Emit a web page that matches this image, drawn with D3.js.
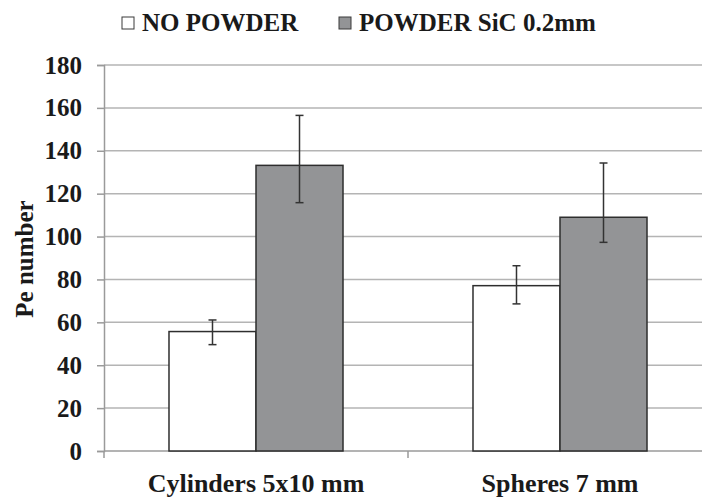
<!DOCTYPE html>
<html><head><meta charset="utf-8">
<script src="https://cdn.jsdelivr.net/npm/d3@7"></script>
<style>body{margin:0;background:#fff}svg{display:block}text{font-family:"Liberation Serif","Times New Roman",serif;font-weight:bold;fill:#1a1a1a}</style>
</head><body>
<svg id="c" width="702" height="497"></svg>
<script>
const categories = ["Cylinders 5x10 mm", "Spheres 7 mm"];
const seriesNames = ["NO POWDER", "POWDER SiC 0.2mm"];
const noPowder = [55.7, 77.1];
const powder = [133.2, 109.0];
const noPowderErrUp = [61.1, 86.4];
const noPowderErrLow = [49.6, 68.6];
const powderErrUp = [156.5, 134.3];
const powderErrLow = [115.8, 97.3];
const yTicks = [0, 20, 40, 60, 80, 100, 120, 140, 160, 180];
const yTitle = "Pe number";

const svg = d3.select("#c");
const mLeft = 104, mRight = 712, mTop = 65, mBottom = 451;
const FS = 25;
const x = d3.scaleBand().domain(categories).range([mLeft, mRight]).paddingInner(0).paddingOuter(0);
const xs = d3.scaleBand().domain(seriesNames).range([0, x.bandwidth()]).paddingInner(0).paddingOuter(0.747);
const y = d3.scaleLinear().domain([0, 180]).range([mBottom, mTop]);
const fills = ["#ffffff", "#939496"];

// gridlines
svg.append("g").selectAll("line").data(yTicks.filter(d => d > 0)).join("line")
  .attr("x1", mLeft).attr("x2", mRight).attr("y1", d => y(d)).attr("y2", d => y(d))
  .attr("stroke", "#b4b4b4").attr("stroke-width", 1.5);

// y axis
const ya = svg.append("g").attr("transform", `translate(${mLeft},0)`)
  .call(d3.axisLeft(y).tickValues(yTicks).tickSize(7).tickPadding(15));
ya.select(".domain").attr("stroke", "#9a9a9a").attr("stroke-width", 1.5);
ya.selectAll(".tick line").attr("stroke", "#9a9a9a").attr("stroke-width", 1.5);
ya.selectAll(".tick text").attr("font-size", FS).attr("fill", "#1a1a1a").attr("font-family", "Liberation Serif").attr("font-weight", "bold");

// x axis
const xa = svg.append("g").attr("transform", `translate(0,${mBottom})`)
  .call(d3.axisBottom(x).tickSize(0).tickPadding(0));
xa.select(".domain").remove();
svg.append("line").attr("x1", mLeft).attr("x2", mRight).attr("y1", mBottom).attr("y2", mBottom).attr("stroke", "#9a9a9a").attr("stroke-width", 1.5);
svg.append("g").selectAll("line").data(categories).join("line")
  .attr("x1", d => x(d)).attr("x2", d => x(d)).attr("y1", mBottom).attr("y2", mBottom + 7)
  .attr("stroke", "#9a9a9a").attr("stroke-width", 1.5);
xa.selectAll(".tick text").attr("font-size", 26).attr("fill", "#1a1a1a").attr("font-family", "Liberation Serif").attr("font-weight", "bold").attr("dy", null).attr("y", 41);

// bars
const rows = [];
categories.forEach((c, i) => {
  rows.push({c, s: seriesNames[0], v: noPowder[i], up: noPowderErrUp[i], lo: noPowderErrLow[i], k: 0});
  rows.push({c, s: seriesNames[1], v: powder[i], up: powderErrUp[i], lo: powderErrLow[i], k: 1});
});
svg.append("g").selectAll("rect").data(rows).join("rect")
  .attr("x", d => x(d.c) + xs(d.s)).attr("width", xs.bandwidth())
  .attr("y", d => y(d.v)).attr("height", d => y(0) - y(d.v))
  .attr("fill", d => fills[d.k]).attr("stroke", "#2e2e2e").attr("stroke-width", 1.5);

// error bars
const eg = svg.append("g").attr("stroke", "#333").attr("stroke-width", 1.5);
rows.forEach(d => {
  const cx = x(d.c) + xs(d.s) + xs.bandwidth() / 2;
  eg.append("line").attr("x1", cx).attr("x2", cx).attr("y1", y(d.up)).attr("y2", y(d.lo));
  eg.append("line").attr("x1", cx - 4).attr("x2", cx + 4).attr("y1", y(d.up)).attr("y2", y(d.up));
  eg.append("line").attr("x1", cx - 4).attr("x2", cx + 4).attr("y1", y(d.lo)).attr("y2", y(d.lo));
});

// y title
svg.append("text").attr("transform", `translate(33,259) rotate(-90)`)
  .attr("text-anchor", "middle").attr("font-size", FS).text(yTitle);

// legend
const lg = svg.append("g");
const legX = [122, 339];
seriesNames.forEach((s, i) => {
  lg.append("rect").attr("x", legX[i]).attr("y", 17).attr("width", 12).attr("height", 12)
    .attr("fill", fills[i]).attr("stroke", "#3a3a3a").attr("stroke-width", 1);
  lg.append("text").attr("x", legX[i] + 20).attr("y", 31).attr("font-size", FS).text(s);
});
</script>
</body></html>
